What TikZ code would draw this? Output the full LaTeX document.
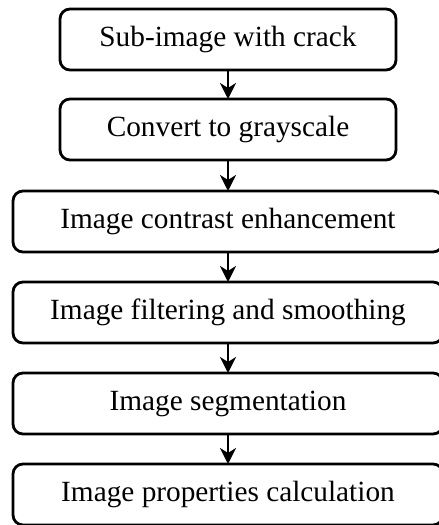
\documentclass[tikz,border=0pt]{standalone}
\usepackage{fontspec}
\setmainfont{Liberation Serif}
\usetikzlibrary{positioning}
\usetikzlibrary{arrows.meta}
\tikzset{>={Stealth[width=14pt,length=15pt,inset=4pt]}}
\tikzset{
  stepbox/.style={draw, line width=2.8pt, rounded corners=10pt, minimum height=61pt,
    inner sep=0pt, outer sep=0pt, font=\fontsize{29.3}{35}\selectfont},
  narrowbox/.style={stepbox, minimum width=336pt},
  widebox/.style={stepbox, minimum width=430pt},
  flow/.style={line width=2.5pt, -{Stealth[width=16pt,length=16pt,inset=5pt]}}
}

\begin{document}
\begin{tikzpicture}[x=1pt,y=1pt, node distance=30pt]

  \useasboundingbox (0,0) rectangle (439,525);

  \node[narrowbox] (sub) at (228,485.5) {Sub-image with crack};
  \node[narrowbox, below=29pt of sub] (gray) {Convert to grayscale};
  \node[widebox, below=31pt of gray] (contrast) {Image contrast enhancement};
  \node[widebox, below=of contrast] (filter) {Image filtering and smoothing};
  \node[widebox, below=of filter] (segment) {Image segmentation};
  \node[widebox, below=of segment] (props) {Image properties calculation};

  \draw[flow] (sub) -- (gray);
  \draw[flow] (gray) -- (contrast);
  \draw[flow] (contrast) -- (filter);
  \draw[flow] (filter) -- (segment);
  \draw[flow] (segment) -- (props);

\end{tikzpicture}
\end{document}
